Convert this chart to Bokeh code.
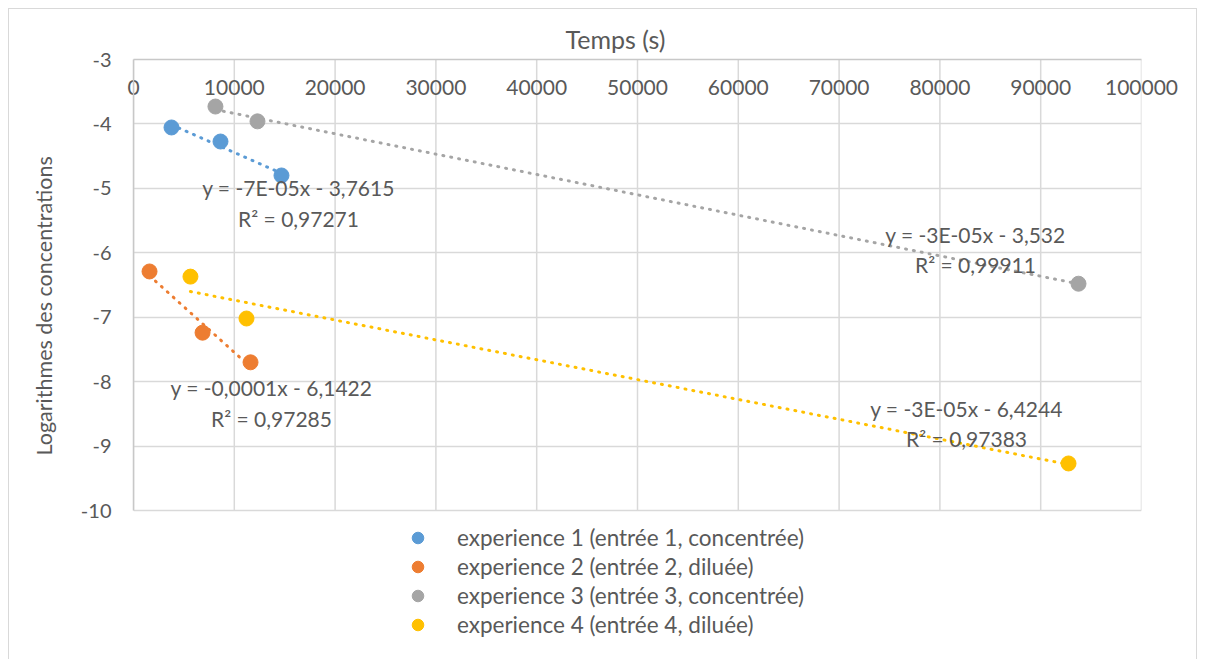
from bokeh.plotting import figure
from bokeh.models import (Range1d, FixedTicker, LinearAxis, Legend, LegendItem,
                          BasicTickFormatter, ColumnDataSource, Title)
from bokeh.core.properties import value
from bokeh.embed import file_html
from bokeh.resources import INLINE
import numpy as np

# ---------------- data ----------------
series_names = [
    "experience 1 (entrée 1, concentrée)",
    "experience 2 (entrée 2, diluée)",
    "experience 3 (entrée 3, concentrée)",
    "experience 4 (entrée 4, diluée)",
]
colors = ["#5B9BD5", "#ED7D31", "#A5A5A5", "#FFC000"]

exp1_t = [3770, 8630, 14680]
exp1_y = [-4.055, -4.273, -4.80]
exp2_t = [1590, 6850, 11610]
exp2_y = [-6.29, -7.24, -7.70]
exp3_t = [8130, 12300, 93750]
exp3_y = [-3.73, -3.96, -6.48]
exp4_t = [5650, 11210, 92760]
exp4_y = [-6.37, -7.02, -9.27]

eq_texts = [
    ["y = -7E-05x - 3,7615", "R² = 0,97271"],
    ["y = -0,0001x - 6,1422", "R² = 0,97285"],
    ["y = -3E-05x - 3,532", "R² = 0,99911"],
    ["y = -3E-05x - 6,4244", "R² = 0,97383"],
]
eq_x = [16370, 13690, 83530, 82640]
eq_y1 = [-4.99, -8.09, -5.72, -8.42]
eq_y2 = [-5.47, -8.57, -6.18, -8.88]

x_ticks = [0, 10000, 20000, 30000, 40000, 50000, 60000, 70000, 80000, 90000, 100000]
x_tick_labels = ["0", "10000", "20000", "30000", "40000", "50000", "60000", "70000",
                 "80000", "90000", "100000"]
y_ticks = [-3, -4, -5, -6, -7, -8, -9, -10]
y_tick_labels = ["-3", "-4", "-5", "-6", "-7", "-8", "-9", "-10"]
x_title = "Temps (s)"
y_title = "Logarithmes des concentrations"

FONT = "Lato"
TXT = "#595959"
GRID = "#d9d9d9"

# ---------------- layout (pixels) ----------------
W, H = 1189, 652
MB_LEFT, MB_RIGHT, MB_TOP, MB_BOTTOM = 124, 57, 50, 11
PLOT_H = 451                      # pixel height of the -10..-3 plotting area
frame_h = H - MB_TOP - MB_BOTTOM
y_hi, y_lo = max(y_ticks), min(y_ticks)
units_per_px = (y_hi - y_lo) / PLOT_H
y_start = y_hi - frame_h * units_per_px   # frame extends below -10 to hold the legend


def overrides(ticks, labels):
    d = {}
    for t, l in zip(ticks, labels):
        d[t] = l
        d[float(t)] = l
    return d


p = figure(width=W, height=H, output_backend="svg", toolbar_location=None,
           x_range=Range1d(0, 100000), y_range=Range1d(y_start, y_hi),
           x_axis_location=None, y_axis_location=None,
           min_border_left=MB_LEFT, min_border_right=MB_RIGHT, min_border_top=MB_TOP,
           min_border_bottom=MB_BOTTOM)
p.styles = {"border": "1px solid #d9d9d9", "box-sizing": "border-box",
            "margin-left": "8px", "margin-top": "8px"}
p.outline_line_color = None
p.background_fill_color = "white"
p.border_fill_color = "white"

# y axis
yax = LinearAxis(ticker=FixedTicker(ticks=y_ticks), bounds=(y_lo, y_hi))
yax.major_label_overrides = overrides(y_ticks, y_tick_labels)
yax.axis_line_color = "#c8c8c8"
yax.axis_line_width = 1.5
yax.major_tick_line_color = None
yax.minor_tick_line_color = None
yax.major_label_text_font = FONT
yax.major_label_text_font_size = "20px"
yax.major_label_text_color = TXT
yax.major_label_standoff = 16
p.add_layout(yax, "left")

# y title, placed alongside the -10..-3 area
ytitle = Title(text=y_title, align="left", vertical_align="middle",
               offset=frame_h - PLOT_H + 55, standoff=40,
               text_font=FONT, text_font_size="21.5px", text_font_style="normal",
               text_color=TXT)
p.add_layout(ytitle, "left")

# x axis (at top, labels inside)
xax = LinearAxis(ticker=FixedTicker(ticks=x_ticks),
                 formatter=BasicTickFormatter(use_scientific=False))
xax.major_label_overrides = overrides(x_ticks, x_tick_labels)
xax.axis_line_color = "#c8c8c8"
xax.axis_line_width = 1.5
xax.major_tick_line_color = None
xax.minor_tick_line_color = None
xax.major_label_text_font = FONT
xax.major_label_text_font_size = "21px"
xax.major_label_text_color = TXT
xax.major_label_standoff = -41
p.add_layout(xax, "above")

# x title (slightly left of centre, as in the original)
xtitle = Title(text=x_title, align="left", vertical_align="bottom",
               offset=432, standoff=12,
               text_font=FONT, text_font_size="25px", text_font_style="normal",
               text_color=TXT)
p.add_layout(xtitle, "above")

# grid: horizontal via grid, vertical via segments limited to the plotting area
p.ygrid.ticker = FixedTicker(ticks=y_ticks)
p.ygrid.grid_line_color = GRID
p.ygrid.grid_line_width = 1.5
p.xgrid.visible = False
p.segment(x0=x_ticks, y0=[y_lo] * len(x_ticks), x1=x_ticks, y1=[y_hi] * len(x_ticks),
          line_color=GRID, line_width=1.5)

all_t = [exp1_t, exp2_t, exp3_t, exp4_t]
all_y = [exp1_y, exp2_y, exp3_y, exp4_y]

items = []
for i in range(4):
    t = np.array(all_t[i], dtype=float)
    y = np.array(all_y[i], dtype=float)
    slope, icpt = np.polyfit(t, y, 1)
    xs = [t.min(), t.max()]
    ys = [slope * xs[0] + icpt, slope * xs[1] + icpt]
    p.line(xs, ys, line_color=colors[i], line_width=3, line_dash="1 7", line_cap="round")
    r = p.scatter(all_t[i], all_y[i], size=15, fill_color=colors[i], line_color=colors[i])
    items.append(LegendItem(label=series_names[i], renderers=[r]))

for j in range(2):
    ys = eq_y1 if j == 0 else eq_y2
    src = ColumnDataSource(dict(x=eq_x, y=ys, t=[e[j] for e in eq_texts]))
    p.text(x="x", y="y", text="t", source=src, text_align="center", text_baseline="middle",
           text_font=value(FONT), text_font_size="21px", text_color=TXT)

# legend placed under the plotting area (offsets in px from frame bottom-left)
legend_top_px = 8
legend_h = 4 * 29 + 2 * 5
vy = frame_h - PLOT_H - legend_top_px - legend_h
legend = Legend(items=items, location=(265, vy))
legend.label_text_font = FONT
legend.label_text_font_size = "22.5px"
legend.label_text_color = TXT
legend.label_standoff = 25
legend.glyph_width = 29
legend.glyph_height = 29
legend.label_height = 20
legend.spacing = 0
legend.padding = 5
legend.margin = 0
legend.border_line_alpha = 0
legend.background_fill_alpha = 0
p.add_layout(legend, "center")

open("out.html", "w").write(file_html(p, INLINE))
